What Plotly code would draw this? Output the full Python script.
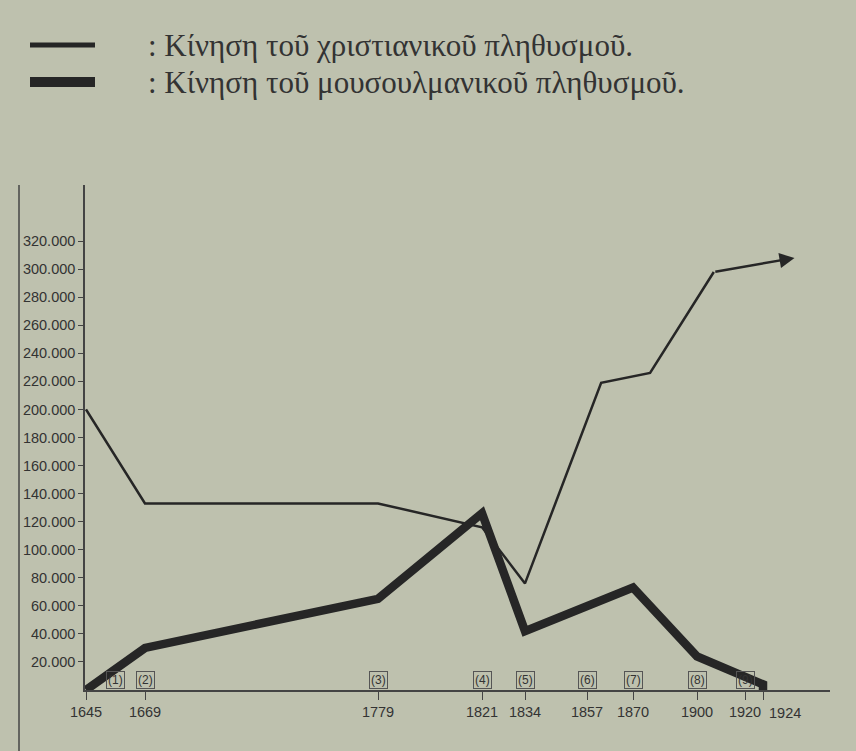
import numpy as np
import plotly.graph_objects as go

# --- data ---
axis_years = [1645, 1669, 1779, 1821, 1834, 1857, 1870, 1900, 1920, 1924]
axis_pos = [86, 145, 378, 482, 525, 587, 633, 697, 745, 763]   # drawn (non-linear) time scale
period_marks = ["(1)", "(2)", "(3)", "(4)", "(5)", "(6)", "(7)", "(8)", "(9)"]
period_years = [1657, 1669, 1779, 1821, 1834, 1857, 1870, 1900, 1920]

christian_years = [1645, 1669, 1779, 1821, 1834, 1861, 1878, 1907]
christian_vals = [200000, 133000, 133000, 116000, 76000, 219000, 226000, 298000]
christian_arrow_year = 1931
christian_arrow_val = 308000

muslim_years = [1645, 1669, 1779, 1821, 1834, 1870, 1900, 1924, 1924]
muslim_vals = [0, 30000, 65000, 126000, 42000, 73000, 24000, 4000, 0]

y_ticks = list(range(20000, 320001, 20000))
legend_labels = [": Κίνηση τοῦ χριστιανικοῦ πληθυσμοῦ.",
                 ": Κίνηση τοῦ μουσουλμανικοῦ πληθυσμοῦ."]


def year_to_pos(y):
    y = np.asarray(y, dtype=float)
    p = np.interp(y, axis_years, axis_pos)
    hi = y > axis_years[-1]
    slope = (axis_pos[-1] - axis_pos[-2]) / (axis_years[-1] - axis_years[-2])
    p = np.where(hi, axis_pos[-1] + (y - axis_years[-1]) * slope, p)
    return p


INK = "#262626"
BG = "#bec1ae"
TICKFONT = dict(family="Liberation Sans Narrow, Arial Narrow, sans-serif", size=14.5, color="#333333")

fig = go.Figure()
fig.add_trace(go.Scatter(x=year_to_pos(christian_years), y=christian_vals, mode="lines",
                         line=dict(color=INK, width=2.5), showlegend=False, cliponaxis=False))
fig.add_trace(go.Scatter(x=year_to_pos(muslim_years), y=muslim_vals, mode="lines",
                         line=dict(color=INK, width=8.5), showlegend=False, cliponaxis=False))

annotations = []
# arrow at end of christian line
annotations.append(dict(x=float(year_to_pos(christian_arrow_year)), y=christian_arrow_val,
                        ax=float(year_to_pos(christian_years[-1])), ay=christian_vals[-1],
                        xref="x", yref="y", axref="x", ayref="y", text="", showarrow=True,
                        arrowhead=2, arrowsize=1.2, arrowwidth=2.5, arrowcolor=INK))
# period markers
for m, yr in zip(period_marks, period_years):
    annotations.append(dict(x=float(year_to_pos(yr)), y=0, xref="x", yref="y", text=m,
                            showarrow=False, yanchor="bottom", yshift=1,
                            font=dict(family="Liberation Sans Narrow, Arial Narrow, sans-serif", size=12, color="#333333"),
                            bordercolor="#555555", borderwidth=1, borderpad=1))
# 1924 label shifted right
annotations.append(dict(x=float(year_to_pos(1924)), y=0, xref="x", yref="y", text="1924",
                        showarrow=False, yanchor="top", xanchor="left", yshift=-13, xshift=4,
                        font=TICKFONT))
# legend
for i, lab in enumerate(legend_labels):
    annotations.append(dict(x=146, y=45 + i * 37, xref="paper", yref="paper", text=lab,
                            showarrow=False, xanchor="left", yanchor="middle",
                            font=dict(family="Liberation Serif, Times New Roman, serif", size=31, color="#333333")))

shapes = [
    dict(type="line", xref="paper", yref="paper", x0=30, x1=95, y0=45, y1=45,
         line=dict(color=INK, width=5)),
    dict(type="line", xref="paper", yref="paper", x0=30, x1=95, y0=82, y1=82,
         line=dict(color=INK, width=10)),
    dict(type="line", xref="paper", yref="paper", x0=19, x1=19, y0=185, y1=751,
         line=dict(color="#444444", width=1.5)),
]

# convert pixel-based paper positions
W, H = 856, 751
L, R, T, B = 85, 26, 185, 61
for a in annotations:
    if a["xref"] == "paper":
        a["x"] = (a["x"] - L) / (W - L - R)
        a["y"] = 1 - (a["y"] - T) / (H - T - B)
for s in shapes:
    s["x0"] = (s["x0"] - L) / (W - L - R)
    s["x1"] = (s["x1"] - L) / (W - L - R)
    s["y0"] = 1 - (s["y0"] - T) / (H - T - B)
    s["y1"] = 1 - (s["y1"] - T) / (H - T - B)

tick_years_shown = axis_years[:-1]
fig.update_layout(
    width=W, height=H,
    margin=dict(l=L, r=R, t=T, b=B),
    paper_bgcolor=BG, plot_bgcolor=BG,
    annotations=annotations, shapes=shapes,
    xaxis=dict(range=[axis_pos[0] - 1, axis_pos[0] - 1 + (W - L - R)],
               tickmode="array",
               tickvals=[float(v) for v in year_to_pos(axis_years)],
               ticktext=[str(y) for y in tick_years_shown] + [""],
               ticks="outside", ticklen=8, tickcolor="#444", tickwidth=1,
               showline=True, linecolor="#444", linewidth=1.5,
               showgrid=False, zeroline=False, tickfont=TICKFONT),
    yaxis=dict(range=[0, 360000], tickmode="array", tickvals=y_ticks,
               ticktext=[f"{v:,}".replace(",", ".") for v in y_ticks],
               ticks="outside", ticklen=5, tickcolor="#444", tickwidth=1,
               showline=True, linecolor="#444", linewidth=1.5,
               showgrid=False, zeroline=False, tickfont=TICKFONT),
)

fig.write_html("out.html", config={"displayModeBar": False},
               post_script="document.body.style.margin='0';document.body.style.background='%s';" % BG)
